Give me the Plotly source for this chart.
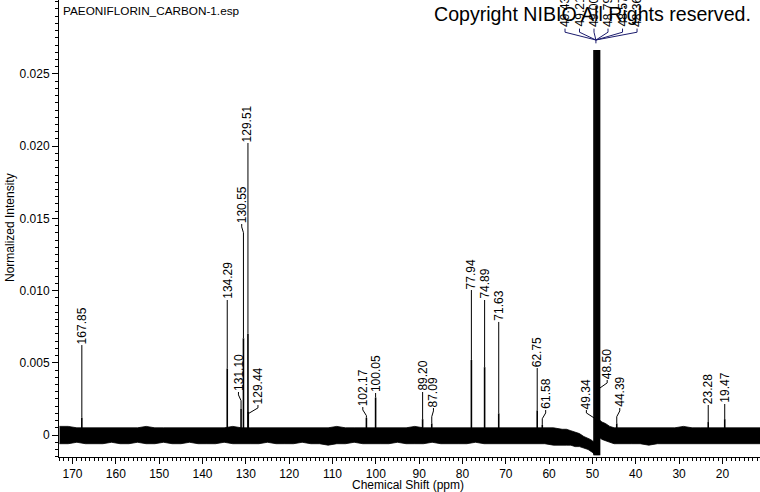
import plotly.graph_objects as go

# ---------------- data ----------------
peak_ppm = [167.85, 134.29, 131.10, 130.55, 129.51, 129.44, 102.17, 100.05, 89.20, 87.09,
            77.94, 74.89, 71.63, 62.75, 61.58, 49.34, 48.50, 44.39, 23.28, 19.47]
peak_height = [0.0012, 0.0046, 0.0018, 0.0067, 0.0070, 0.0016, 0.0012, 0.0026, 0.0011, 0.0008,
               0.0052, 0.0047, 0.0015, 0.0017, 0.0007, 0.0005, 0.0005, 0.0008, 0.0009, 0.0011]
peak_labels = ["167.85", "134.29", "131.10", "130.55", "129.51", "129.44", "102.17", "100.05",
               "89.20", "87.09", "77.94", "74.89", "71.63", "62.75", "61.58", "49.34", "48.50",
               "44.39", "23.28", "19.47"]
label_ppm = [167.85, 134.29, 131.70, 130.95, 129.51, 127.20, 103.00, 100.05, 89.20, 86.70,
             77.94, 74.89, 71.63, 62.75, 60.80, 51.40, 46.60, 43.70, 23.28, 19.47]
label_base = [0.00623, 0.00935, 0.00298, 0.01461, 0.02022, 0.00208, 0.00194, 0.00291, 0.00298,
              0.00187, 0.01004, 0.00935, 0.00783, 0.00464, 0.00173, 0.00173, 0.00381, 0.00187,
              0.00208, 0.00215]

solvent_ppm = [49.64, 49.43, 49.21, 49.00, 48.79, 48.57, 48.36]
solvent_top = 0.02666
solvent_bottom = -0.0014
solvent_labels = ["49.43", "49.21", "49.00", "48.79", "48.57", "48.36"]
solvent_label_ppm = [56.33, 52.99, 49.64, 46.41, 43.06, 39.71]
solvent_label_base = 0.02819
solvent_bracket_ppm = 49.2

# baseline noise envelope (units of 1e-4 normalized intensity)
noise_ppm = [173, 171, 169, 167, 165, 163, 161, 159, 157, 155, 153, 151, 149, 147, 145, 143, 141,
             139, 137, 135, 133, 131, 129, 127, 125, 123, 121, 119, 117, 115, 113, 111, 109, 107,
             105, 103, 101, 99, 97, 95, 93, 91, 89, 87, 85, 83, 81, 79, 77, 75, 73, 71, 69, 67,
             65, 63, 61, 59, 57,
             56, 55, 54, 53, 52, 51, 50.5, 50, 49.7, 48.2, 47.8, 47, 46, 45, 44, 43, 41,
             39, 37, 35, 33, 31, 29, 27, 25, 23, 21, 19, 17, 15, 13, 11]
noise_upper = [6, 6, 5, 5, 5, 5, 5, 5, 5, 5, 6, 5, 5, 5, 5, 5, 5, 5, 5, 5, 6, 5, 5, 5, 5, 5, 5, 5,
               5, 5, 5, 5, 6, 5, 5, 5, 5, 5, 5, 5, 5, 6, 5, 5, 5, 5, 5, 5, 5, 5, 5, 5, 5, 5, 5, 5,
               5, 5, 4,
               4, 3, 2, 1, -1, -2, -3, -4, -5, 10, 9, 8, 6, 5, 5, 5, 5,
               5, 5, 5, 5, 5, 6, 5, 5, 5, 5, 5, 5, 5, 5, 5]
noise_lower = [-6, -6, -5, -6, -6, -6, -5, -6, -6, -5, -6, -6, -5, -6, -6, -5, -6, -6, -6, -5, -6,
               -6, -6, -6, -5, -6, -6, -6, -5, -6, -6, -7, -6, -6, -5, -6, -6, -6, -6, -5, -6,
               -6, -6, -5, -6, -6, -6, -6, -5, -6, -6, -6, -6, -6, -6, -6, -6, -7, -7,
               -7, -7, -8, -8, -9, -10, -11, -12, -13, -2, -3, -4, -5, -6, -6, -6, -6,
               -6, -7, -6, -6, -6, -6, -6, -6, -6, -6, -6, -6, -6, -6, -6]

y_tick_vals = [0, 0.005, 0.010, 0.015, 0.020, 0.025]
y_tick_text = ["0", "0.005", "0.010", "0.015", "0.020", "0.025"]

# ---------------- figure ----------------
FONT = "Liberation Sans, Arial, sans-serif"
fig = go.Figure()

# noise ribbon
nx = noise_ppm + noise_ppm[::-1]
ny = [v * 1e-4 for v in noise_upper] + [v * 1e-4 for v in noise_lower[::-1]]
fig.add_trace(go.Scatter(x=nx, y=ny, fill="toself", fillcolor="black", mode="lines",
                         line=dict(color="black", width=0.8), hoverinfo="skip", showlegend=False))

# peaks
px, py = [], []
for p, h in zip(peak_ppm, peak_height):
    px += [p, p, None]
    py += [0, h, None]
for p in solvent_ppm:
    px += [p, p, None]
    py += [solvent_bottom, solvent_top, None]
fig.add_trace(go.Scatter(x=px, y=py, mode="lines", line=dict(color="black", width=1.6),
                         hoverinfo="skip", showlegend=False))

# leader lines
lx, ly = [], []
kink = 0.0006
for p, h, lp, lb in zip(peak_ppm, peak_height, label_ppm, label_base):
    if abs(lp - p) < 0.05:
        lx += [p, p, None]
        ly += [h, lb, None]
    else:
        lx += [p, p, lp, lp, None]
        ly += [h, lb - kink, lb - 0.0002, lb, None]
fig.add_trace(go.Scatter(x=lx, y=ly, mode="lines", line=dict(color="black", width=1),
                         hoverinfo="skip", showlegend=False))

# solvent bracket
bx, by = [], []
for sp in solvent_label_ppm:
    bx += [sp, sp, solvent_bracket_ppm, None]
    by += [solvent_label_base - 0.00005, solvent_label_base - 0.0003, 0.02735, None]
bx += [solvent_bracket_ppm, solvent_bracket_ppm, None]
by += [0.02735, 0.02712, None]
fig.add_trace(go.Scatter(x=bx, y=by, mode="lines", line=dict(color="#1c1c6e", width=1),
                         hoverinfo="skip", showlegend=False))

annotations = []
for t, lp, lb in zip(peak_labels, label_ppm, label_base):
    annotations.append(dict(x=lp, y=lb, xref="x", yref="y", text=t, textangle=-90,
                            showarrow=False, xanchor="center", yanchor="bottom",
                            font=dict(family=FONT, size=12, color="black"), borderpad=0))
for t, lp in zip(solvent_labels, solvent_label_ppm):
    annotations.append(dict(x=lp, y=solvent_label_base, xref="x", yref="y", text=t,
                            textangle=-90, showarrow=False, xanchor="center", yanchor="bottom",
                            font=dict(family=FONT, size=12, color="black"), borderpad=0))

annotations += [
    dict(x=(10 - 59) / 701, y=1 - 228 / 457, xref="paper", yref="paper",
         text="Normalized Intensity", textangle=-90, showarrow=False,
         xanchor="center", yanchor="middle", font=dict(family=FONT, size=12, color="black")),
    dict(x=(408 - 59) / 701, y=(457 - 485) / 457, xref="paper", yref="paper",
         text="Chemical Shift (ppm)", showarrow=False,
         xanchor="center", yanchor="middle", font=dict(family=FONT, size=12, color="black")),
    dict(x=(61 - 59) / 701, y=(457 - 11) / 457, xref="paper", yref="paper",
         text="PAEONIFLORIN_CARBON-1.esp", showarrow=False,
         xanchor="left", yanchor="middle", font=dict(family=FONT, size=11.75, color="black")),
    dict(x=(432 - 59) / 701, y=(457 - 14) / 457, xref="paper", yref="paper",
         text="Copyright NIBIO All Rights reserved.", showarrow=False,
         xanchor="left", yanchor="middle", font=dict(family=FONT, size=19.6, color="black")),
]

fig.update_layout(
    width=760, height=492,
    margin=dict(l=59, r=0, t=0, b=35, autoexpand=False),
    paper_bgcolor="white", plot_bgcolor="white",
    showlegend=False,
    annotations=annotations,
    font=dict(family=FONT, size=12, color="black"),
)
fig.update_xaxes(
    range=[173.12, 11.33], showline=True, linecolor="black", linewidth=1,
    ticks="outside", ticklen=6, tickcolor="black", tick0=0, dtick=10, automargin=False,
    minor=dict(ticks="outside", ticklen=3, tickcolor="black", tick0=0, dtick=1),
    showgrid=False, zeroline=False, tickfont=dict(family=FONT, size=12, color="black"),
)
fig.update_yaxes(
    range=[-0.00152, 0.03012], showline=True, linecolor="black", linewidth=1,
    ticks="outside", ticklen=6, tickcolor="black", automargin=False,
    tickmode="array", tickvals=y_tick_vals, ticktext=y_tick_text,
    minor=dict(ticks="outside", ticklen=3, tickcolor="black", tickmode="linear",
               tick0=0, dtick=0.0005),
    showgrid=False, zeroline=False, tickfont=dict(family=FONT, size=12, color="black"),
)

fig.write_html("out.html", config={"displayModeBar": False},
               post_script="document.body.style.margin='0';")
